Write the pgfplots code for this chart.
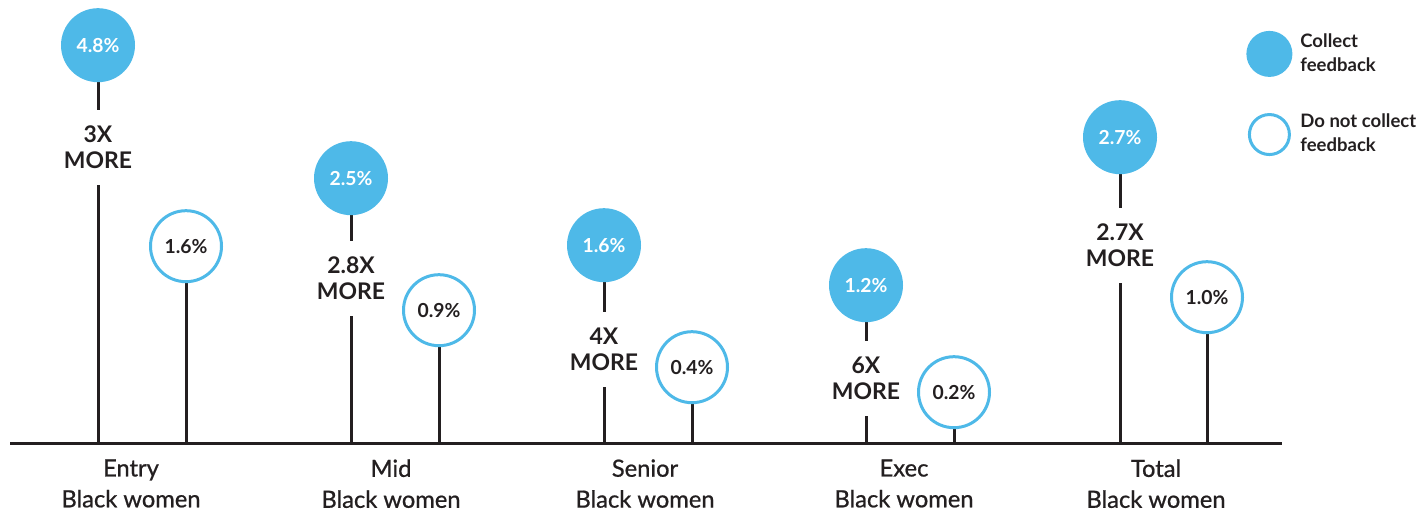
\documentclass[border=0pt]{standalone}
\usepackage{pgfplots}
\pgfplotsset{compat=1.18}
\usepackage{pgfplotstable}
\usepackage{fontspec}
\setmainfont{Lato}
\newfontfamily\catfont{Lato}[FakeBold=0.8]
\definecolor{cblue}{RGB}{78,185,232}
\definecolor{tdark}{RGB}{35,31,32}

% x = pixel position, y = height of circle centre above baseline, label = value (%)
\pgfplotstableread{
x    y    label
98   398  4.8
351  265  2.5
604  198  1.6
866  158  1.2
1120 306  2.7
}\collect
\pgfplotstableread{
x    y    label
186  197  1.6
439  133  0.9
692  76   0.4
954  51   0.2
1207 146  1.0
}\nocollect

\begin{document}
\begin{tikzpicture}
\begin{axis}[
  x=0.5bp, y=0.5bp,
  xmin=10, xmax=1282, ymin=0, ymax=443,
  clip=false,
  axis line style={draw=none},
  ytick=\empty,
  xtick={131,391,645,904,1156},
  xticklabels={{Entry\\Black women},{Mid\\Black women},{Senior\\Black women},{Exec\\Black women},{Total\\Black women}},
  major tick length=0pt,
  xticklabel style={align=center, font=\catfont\fontsize{11.9}{15.5}\selectfont, text=tdark, yshift=-4.6bp},
  legend style={draw=none, fill=none, at={(axis cs:1246,414)}, anchor=north west,
    row sep=16bp, inner sep=0pt, cells={align=left, anchor=west},
    font=\fontsize{9.3}{12}\selectfont\bfseries, text=tdark},
]
\path (axis cs:0,-70) rectangle (axis cs:1421,443);
\addplot[forget plot, tdark, line width=1.5bp] coordinates {(10,0) (1282,0)};
\addplot[ycomb, tdark, line width=1.5bp, mark=*, mark size=17.75bp,
  mark options={fill=cblue, draw=cblue},
  nodes near coords={\pgfplotspointmeta\%}, point meta=explicit symbolic,
  every node near coord/.append style={anchor=center, text=white, font=\fontsize{9.7}{11}\selectfont\bfseries},
  legend image code/.code={\fill[cblue] (10.75bp,0) circle (10.75bp); \path (23.5bp,0);}]
  table[x=x, y=y, meta=label] {\collect};
\addlegendentry{Collect\\feedback}
\addplot[ycomb, tdark, line width=1.5bp, mark=*, mark size=17.75bp,
  mark options={fill=white, draw=cblue, line width=1.5bp},
  nodes near coords={\pgfplotspointmeta\%}, point meta=explicit symbolic,
  every node near coord/.append style={anchor=center, text=tdark, font=\fontsize{9.7}{11}\selectfont\bfseries},
  legend image code/.code={\draw[cblue, line width=1.5bp, fill=white] (10.75bp,0) circle (10bp); \path (23.5bp,0);}]
  table[x=x, y=y, meta=label] {\nocollect};
\addlegendentry{Do not collect\\feedback}
\tikzset{mult/.style={fill=white, align=center, text=tdark, font=\fontsize{11.5}{13}\selectfont\bfseries, inner xsep=1bp, inner ysep=8bp}}
\node[mult] at (axis cs:98,296) {3X\\MORE};
\node[mult] at (axis cs:351,165) {2.8X\\MORE};
\node[mult] at (axis cs:604,94) {4X\\MORE};
\node[mult] at (axis cs:866,65) {6X\\MORE};
\node[mult] at (axis cs:1120,198) {2.7X\\MORE};
\end{axis}
\end{tikzpicture}
\end{document}
